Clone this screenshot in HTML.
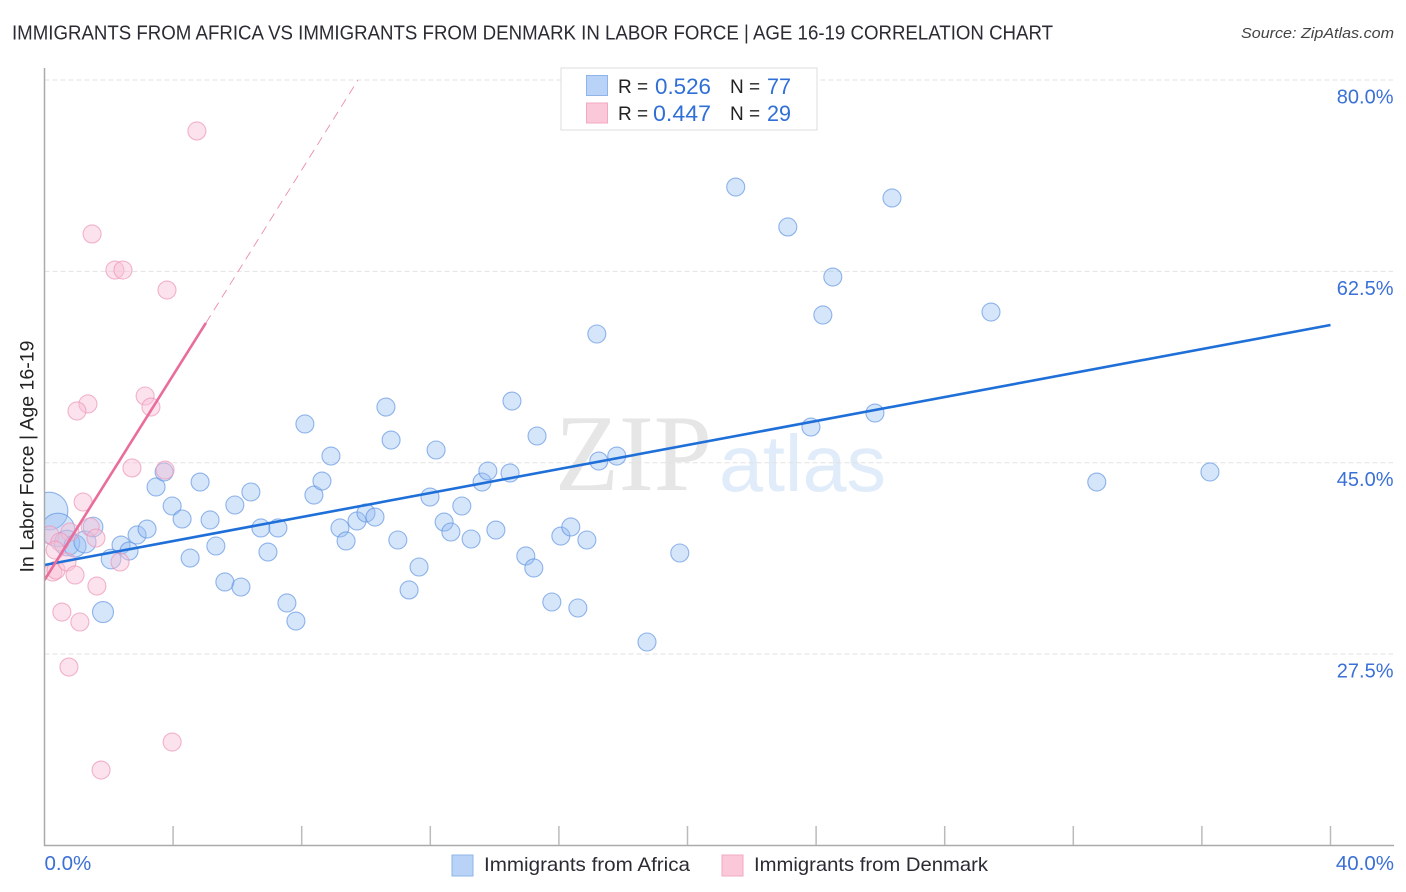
<!DOCTYPE html>
<html lang="en">
<head>
<meta charset="utf-8">
<title>Immigrants from Africa vs Immigrants from Denmark correlation chart</title>
<style>
html,body{margin:0;padding:0;background:#fff;width:1406px;height:892px;overflow:hidden}
svg{display:block;font-family:"Liberation Sans",sans-serif}
</style>
</head>
<body>
<svg id="chart" xmlns="http://www.w3.org/2000/svg" width="1406" height="892" viewBox="0 0 1406 892">
  <text x="12" y="39.5" font-size="20" fill="#2b2b33" textLength="1041" lengthAdjust="spacingAndGlyphs">IMMIGRANTS FROM AFRICA VS IMMIGRANTS FROM DENMARK IN LABOR FORCE | AGE 16-19 CORRELATION CHART</text>
  <text x="1241" y="38" font-size="15" font-style="italic" fill="#444" textLength="153" lengthAdjust="spacingAndGlyphs">Source: ZipAtlas.com</text>
  <g>
    <text x="555" y="490" font-family="'Liberation Serif',serif" font-size="109" fill="#e6e6e6" textLength="157" lengthAdjust="spacingAndGlyphs">ZIP</text>
    <text x="719" y="491" font-size="80" fill="#e0ecfa" textLength="167" lengthAdjust="spacingAndGlyphs">atlas</text>
  </g>
  <g id="grid"></g>
  <g id="marks-blue"></g>
  <g id="marks-pink"></g>
  <g id="trends"></g>
  <rect x="0" y="60" width="44.5" height="786" fill="#fff"/>
  <g id="axes"></g>
  <text transform="translate(33.5,456.5) rotate(-90)" font-size="19" fill="#222" text-anchor="middle" textLength="232" lengthAdjust="spacingAndGlyphs">In Labor Force | Age 16-19</text>
  <g>
    <rect x="561" y="68" width="256" height="62" fill="#fff" stroke="#ddd" stroke-width="1"/>
    <rect x="586.5" y="75.5" width="21" height="20" fill="#b9d3f8" stroke="#8fb4e8"/>
    <rect x="586.5" y="103" width="21" height="20" fill="#fbc8d9" stroke="#f0aac3"/>
    <text x="618" y="93" font-size="19" fill="#222">R =</text>
    <text x="655" y="94" font-size="22" fill="#2f6fd6" textLength="56" lengthAdjust="spacingAndGlyphs">0.526</text>
    <text x="730" y="93" font-size="19" fill="#222">N =</text>
    <text x="767" y="94" font-size="22" fill="#2f6fd6" textLength="24" lengthAdjust="spacingAndGlyphs">77</text>
    <text x="618" y="120" font-size="19" fill="#222">R =</text>
    <text x="653" y="121" font-size="22" fill="#2f6fd6" textLength="58" lengthAdjust="spacingAndGlyphs">0.447</text>
    <text x="730" y="120" font-size="19" fill="#222">N =</text>
    <text x="767" y="121" font-size="22" fill="#2f6fd6" textLength="24" lengthAdjust="spacingAndGlyphs">29</text>
  </g>
  <g>
    <rect x="452" y="855" width="21" height="21" fill="#b9d3f8" stroke="#8fb4e8"/>
    <text x="484" y="871" font-size="19.5" fill="#2b2b33" textLength="206" lengthAdjust="spacingAndGlyphs">Immigrants from Africa</text>
    <rect x="722" y="855" width="21" height="21" fill="#fbc8d9" stroke="#f0aac3"/>
    <text x="754" y="871" font-size="19.5" fill="#2b2b33" textLength="234" lengthAdjust="spacingAndGlyphs">Immigrants from Denmark</text>
  </g>
</svg>
<script>
const xTicks = [0, 4, 8, 12, 16, 20, 24, 28, 32, 36, 40];
const xTickLabels = ["0.0%", "40.0%"];
const yTicks = [80, 62.5, 45, 27.5];
const yTickLabels = ["80.0%", "62.5%", "45.0%", "27.5%"];

const africaX = [0.14,0.42,0.70,0.95,1.26,1.51,2.07,2.38,2.63,2.88,3.19,1.82,4.53,3.47,3.72,3.97,4.28,4.84,5.15,5.33,5.61,6.11,5.92,6.42,6.73,7.26,6.95,7.54,7.82,8.10,8.38,8.63,8.91,9.19,9.38,9.72,10.0,10.28,10.62,10.78,10.99,11.34,11.65,11.99,12.18,12.43,12.64,12.98,13.27,13.61,13.79,14.04,14.48,14.54,14.97,15.22,15.32,15.78,16.06,16.37,16.59,16.87,17.18,17.24,17.80,18.74,19.76,21.50,23.12,23.84,24.21,24.52,25.83,26.36,29.44,32.73,36.25];
const africaY = [40.58,38.84,37.65,37.38,37.75,39.12,36.19,37.47,36.92,38.39,38.93,31.34,36.28,42.78,44.15,41.04,39.85,43.23,39.76,37.38,34.09,33.63,41.13,42.32,39.03,39.03,36.83,32.17,30.52,48.54,42.04,43.32,45.61,39.03,37.84,39.67,40.40,40.03,50.09,47.07,37.93,33.36,35.46,41.86,46.16,39.57,38.66,41.04,38.02,43.23,44.24,38.84,44.06,50.64,36.47,35.37,47.44,32.26,38.29,39.12,31.71,37.93,56.77,45.15,45.61,28.60,36.74,70.21,66.56,48.26,58.51,61.98,49.54,69.21,58.78,43.23,44.15];
const africaWeight = [4.4,3.5,2,1.5,1.5,1.2,1.2,1,1,1,1,1.36];

const denmarkX = [4.74,1.48,2.19,2.44,3.81,3.13,3.31,1.35,1.01,2.72,3.75,1.20,0.79,1.42,1.60,0.17,0.48,0.33,0.26,0.36,0.70,0.95,2.35,1.63,0.54,1.10,0.76,3.97,1.76];
const denmarkY = [75.34,65.92,62.62,62.62,60.79,51.10,50.09,50.37,49.73,44.52,44.33,41.40,38.66,39.12,38.11,38.39,37.75,37.01,35.00,35.18,35.92,34.73,35.92,33.72,31.34,30.43,26.31,19.45,16.89];

const africaTrendX = [0, 40];
const africaTrendY = [35.64, 57.59];
const denmarkTrendX = [0, 5.02];
const denmarkTrendY = [34.27, 57.78];
const denmarkExtensionX = [5.02, 9.75];
const denmarkExtensionY = [57.78, 80];

const NS = "http://www.w3.org/2000/svg";
const scaleX = v => 44.5 + v * 32.15;
const scaleY = v => 80 + (80 - v) * 10.934;
const radius = w => 9 * Math.sqrt(w);
const svgEl = (tag, parent, attrs) => {
  const el = document.createElementNS(NS, tag);
  for (const k in attrs) el.setAttribute(k, attrs[k]);
  parent.appendChild(el);
  return el;
};

const grid = document.getElementById("grid");
const axes = document.getElementById("axes");
const blue = document.getElementById("marks-blue");
const pink = document.getElementById("marks-pink");
const trends = document.getElementById("trends");

yTicks.forEach((t, i) => {
  const line = svgEl("line", grid, {x1: 44.5, x2: 1393, y1: scaleY(t), y2: scaleY(t), stroke: "#e2e2e2", "stroke-width": 1, "stroke-dasharray": "5 3"});
  
  
  const label = svgEl("text", axes, {x: 1393.5, y: scaleY(t) + 23.5, "font-size": 20, fill: "#3b70d6", "text-anchor": "end"});
  label.textContent = yTickLabels[i];
  
  
});

const yAxis = svgEl("line", axes, {x1: 44.5, x2: 44.5, y1: 68, y2: 846, stroke: "#aaa", "stroke-width": 1.5});


const xAxis = svgEl("line", axes, {x1: 44, x2: 1394, y1: 845.5, y2: 845.5, stroke: "#aaa", "stroke-width": 1.5});



xTicks.slice(1).forEach(t => {
  const tick = svgEl("line", axes, {x1: scaleX(t), x2: scaleX(t), y1: 826, y2: 845, stroke: "#bbb", "stroke-width": 1.5});
  
  
});

const xLabelStart = svgEl("text", axes, {x: scaleX(xTicks[0]), y: 870, "font-size": 20.5, fill: "#3b70d6"});
xLabelStart.textContent = xTickLabels[0];


const xLabelEnd = svgEl("text", axes, {x: 1394, y: 870, "font-size": 20.5, fill: "#3b70d6", "text-anchor": "end"});
xLabelEnd.textContent = xTickLabels[1];



africaX.forEach((x, i) => {
  const w = i < africaWeight.length ? africaWeight[i] : 1;
  const dot = svgEl("circle", blue, {cx: scaleX(x), cy: scaleY(africaY[i]), r: radius(w), fill: "rgba(150,190,243,0.4)", stroke: "rgba(90,145,225,0.65)", "stroke-width": 1.1});
  
  
});
denmarkX.forEach((x, i) => {
  const dot = svgEl("circle", pink, {cx: scaleX(x), cy: scaleY(denmarkY[i]), r: radius(1), fill: "rgba(249,190,212,0.45)", stroke: "rgba(236,150,184,0.7)", "stroke-width": 1.1});
  
  
});

const africaTrend = svgEl("line", trends, {x1: scaleX(africaTrendX[0]), y1: scaleY(africaTrendY[0]), x2: scaleX(africaTrendX[1]), y2: scaleY(africaTrendY[1]), stroke: "#1f6fd8", "stroke-width": 2.6});


const denmarkTrend = svgEl("line", trends, {x1: scaleX(denmarkTrendX[0]), y1: scaleY(denmarkTrendY[0]), x2: scaleX(denmarkTrendX[1]), y2: scaleY(denmarkTrendY[1]), stroke: "#e96d9b", "stroke-width": 2.6});


const denmarkExtension = svgEl("line", trends, {x1: scaleX(denmarkExtensionX[0]), y1: scaleY(denmarkExtensionY[0]), x2: scaleX(denmarkExtensionX[1]), y2: scaleY(denmarkExtensionY[1]), stroke: "#ec8bb0", "stroke-width": 0.9, "stroke-dasharray": "9 6"});


</script>
</body>
</html>
